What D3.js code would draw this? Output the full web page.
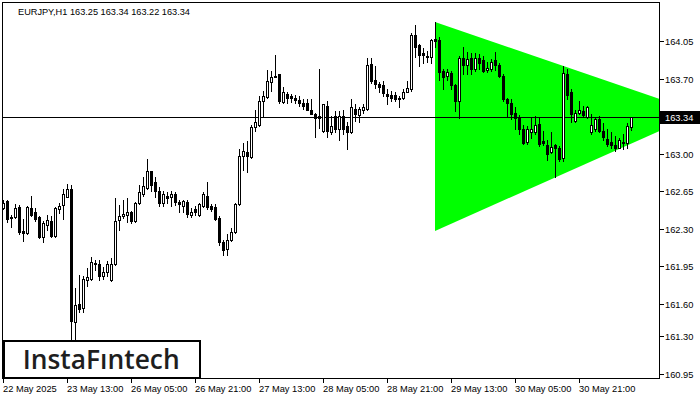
<!DOCTYPE html>
<html><head><meta charset="utf-8">
<script src="https://cdn.jsdelivr.net/npm/d3@7"></script>
<style>body{margin:0;background:#fff}svg{display:block}</style>
</head><body>
<svg id="c" width="700" height="400"></svg>
<script>
const symbolTitle = "EURJPY,H1  163.25 163.34 163.22 163.34";
const open = [162.49,162.56,162.41,162.41,162.50,162.28,162.26,162.49,162.46,162.41,162.22,162.34,162.37,162.23,162.48,162.52,162.60,162.67,161.43,161.60,161.56,161.82,161.83,161.98,161.97,161.86,161.90,161.82,161.97,162.38,162.42,162.43,162.46,162.37,162.54,162.62,162.68,162.84,162.74,162.65,162.54,162.61,162.60,162.62,162.55,162.51,162.55,162.43,162.48,162.43,162.51,162.61,162.51,162.50,162.40,162.18,162.11,162.20,162.27,162.53,162.98,163.02,162.97,163.25,163.27,163.49,163.53,163.67,163.73,163.74,163.48,163.56,163.54,163.52,163.50,163.47,163.47,163.41,163.37,163.35,163.21,163.45,163.20,163.35,163.23,163.35,163.26,163.20,163.42,163.36,163.41,163.42,163.84,163.69,163.65,163.64,163.56,163.55,163.55,163.52,163.52,163.58,163.60,164.11,164.01,163.94,163.91,163.90,164.07,164.06,163.77,163.73,163.75,163.64,163.49,163.89,163.83,163.89,163.79,163.89,163.87,163.78,163.79,163.87,163.83,163.73,163.51,163.47,163.38,163.33,163.23,163.11,163.20,163.20,163.28,163.12,163.08,163.02,163.08,163.05,162.96,163.74,163.58,163.31,163.38,163.40,163.34,163.20,163.23,163.32,163.21,163.14,163.11,163.08,163.05,163.11,163.10,163.25];
const high = [162.57,162.57,162.43,162.53,162.52,162.39,162.51,162.61,162.49,162.42,162.37,162.43,162.42,162.50,162.54,162.67,162.72,162.71,161.75,161.87,161.86,161.93,162.04,162.01,162.01,161.94,162.00,162.03,162.59,162.52,162.57,162.59,162.47,162.55,162.71,162.78,162.95,162.84,162.78,162.69,162.65,162.64,162.65,162.64,162.57,162.57,162.57,162.49,162.51,162.54,162.64,162.74,162.53,162.53,162.42,162.20,162.25,162.31,162.54,163.04,163.10,163.12,163.27,163.41,163.54,163.59,163.78,163.77,163.92,163.74,163.62,163.58,163.56,163.55,163.54,163.51,163.51,163.51,163.38,163.79,163.46,163.49,163.35,163.40,163.40,163.41,163.30,163.51,163.46,163.44,163.46,163.89,163.89,163.82,163.67,163.68,163.60,163.59,163.58,163.54,163.60,163.68,164.13,164.20,164.02,163.99,163.96,164.07,164.23,164.09,163.79,163.79,163.77,163.65,163.91,164.00,163.95,163.94,163.94,163.93,163.91,163.86,163.88,163.95,163.85,163.74,163.52,163.51,163.44,163.36,163.27,163.26,163.34,163.35,163.34,163.21,163.13,163.20,163.09,163.07,163.82,163.79,163.60,163.41,163.49,163.45,163.45,163.37,163.34,163.35,163.29,163.23,163.20,163.17,163.15,163.18,163.29,163.34];
const low = [162.48,162.36,162.32,162.40,162.25,162.19,162.25,162.42,162.37,162.21,162.18,162.29,162.22,162.22,162.45,162.39,162.60,161.22,161.25,161.52,161.52,161.77,161.82,161.92,161.82,161.83,161.86,161.81,161.96,162.29,162.40,162.36,162.35,162.36,162.53,162.61,162.67,162.65,162.60,162.51,162.51,162.54,162.51,162.52,162.46,162.46,162.41,162.41,162.43,162.42,162.50,162.48,162.47,162.38,162.15,162.06,162.06,162.19,162.26,162.52,162.85,162.83,162.96,163.21,163.26,163.35,163.52,163.59,163.72,163.47,163.47,163.47,163.48,163.47,163.45,163.42,163.41,163.37,163.16,163.24,163.20,163.16,163.18,163.20,163.13,163.18,163.04,163.19,163.31,163.30,163.38,163.41,163.66,163.61,163.58,163.54,163.46,163.49,163.49,163.44,163.51,163.58,163.59,163.90,163.82,163.85,163.86,163.85,164.00,163.69,163.60,163.69,163.60,163.40,163.33,163.74,163.74,163.74,163.77,163.79,163.76,163.76,163.77,163.78,163.72,163.49,163.35,163.32,163.23,163.18,163.09,163.09,163.15,163.18,163.07,163.08,162.94,163.01,162.78,162.93,162.93,163.51,163.30,163.30,163.37,163.34,163.33,163.18,163.21,163.20,163.13,163.07,163.05,163.03,163.05,163.04,163.05,163.22];
const close = [162.54,162.39,162.40,162.49,162.27,162.26,162.50,162.43,162.39,162.22,162.35,162.38,162.23,162.49,162.51,162.62,162.67,161.44,161.59,161.55,161.83,161.85,161.99,161.97,161.86,161.90,161.97,161.97,162.37,162.42,162.44,162.46,162.37,162.54,162.64,162.70,162.84,162.71,162.65,162.54,162.62,162.59,162.62,162.55,162.53,162.56,162.44,162.46,162.46,162.53,162.62,162.50,162.48,162.39,162.18,162.10,162.20,162.27,162.53,162.98,163.03,162.98,163.25,163.30,163.49,163.54,163.68,163.72,163.72,163.49,163.58,163.52,163.52,163.50,163.47,163.45,163.41,163.37,163.33,163.33,163.46,163.21,163.26,163.23,163.35,163.23,163.20,163.44,163.37,163.42,163.44,163.83,163.68,163.65,163.62,163.57,163.54,163.52,163.51,163.51,163.58,163.61,164.11,164.00,163.92,163.92,163.90,164.06,164.05,163.76,163.72,163.76,163.64,163.49,163.89,163.83,163.88,163.79,163.89,163.85,163.77,163.80,163.86,163.83,163.73,163.51,163.47,163.37,163.33,163.23,163.10,163.23,163.23,163.27,163.09,163.10,163.00,163.06,163.05,162.95,163.75,163.55,163.37,163.38,163.41,163.36,163.44,163.27,163.32,163.21,163.16,163.09,163.08,163.05,163.13,163.10,163.26,163.34];
const xTickBars = [0,16,32,48,64,80,96,112,128,144];
const xTickLabels = ["22 May 2025","23 May 13:00","26 May 05:00","26 May 21:00","27 May 13:00","28 May 05:00","28 May 21:00","29 May 13:00","30 May 05:00","30 May 21:00"];
const yTicks = [164.05,163.70,163.00,162.65,162.30,161.95,161.60,161.30,160.95];
const lastPrice = 163.34;
const triangleBars = [108,108,174.3];
const trianglePrices = [164.23,162.28,163.38];
const brand = "InstaFıntech";

const svg = d3.select("#c").attr("shape-rendering","crispEdges");
const FONT = "'Liberation Sans', Arial, sans-serif";
const x = d3.scaleLinear().domain([0,164]).range([3.5,659.5]);
const y = d3.scaleLinear().domain([160.95,164.05]).range([373.5,41.2]);
const ry = v => Math.round(y(v));

svg.append("defs").append("clipPath").attr("id","plot")
  .append("rect").attr("x",3).attr("y",3).attr("width",656).attr("height",375);

const g = svg.append("g").attr("clip-path","url(#plot)");

// triangle pattern
g.append("polygon")
  .attr("points", triangleBars.map((b,k)=>[x(b)-0.5, y(trianglePrices[k])].join(",")).join(" "))
  .attr("fill","#00ff00").attr("shape-rendering","auto");

// price line
g.append("line").attr("x1",3).attr("x2",659)
  .attr("y1",ry(lastPrice)+0.5).attr("y2",ry(lastPrice)+0.5)
  .attr("stroke","#000").attr("stroke-width",1);

// candles
const idx = d3.range(open.length);
const cg = g.append("g");
idx.forEach(i=>{
  const cx = x(i);
  cg.append("line").attr("x1",cx).attr("x2",cx)
    .attr("y1",ry(high[i])).attr("y2",ry(low[i])+1)
    .attr("stroke","#000").attr("stroke-width",1);
  const top = ry(Math.max(open[i],close[i]));
  const bot = ry(Math.min(open[i],close[i]));
  const bull = close[i] >= open[i];
  if (bot - top < 1) {
    cg.append("line").attr("x1",cx-1.5).attr("x2",cx+1.5)
      .attr("y1",top+0.5).attr("y2",top+0.5).attr("stroke","#000");
  } else {
    cg.append("rect").attr("x",cx-1).attr("y",top+0.5)
      .attr("width",2).attr("height",bot-top)
      .attr("fill", bull ? "#fff" : "#000").attr("stroke","#000").attr("stroke-width",1);
  }
});

// frame
svg.append("rect").attr("x",2.5).attr("y",2.5).attr("width",657).attr("height",376)
  .attr("fill","none").attr("stroke","#000").attr("stroke-width",1);

// y axis
const ya = svg.append("g");
yTicks.forEach(v=>{
  const yy = ry(v)+0.5;
  ya.append("line").attr("x1",660).attr("x2",664).attr("y1",yy).attr("y2",yy).attr("stroke","#000");
  ya.append("text").attr("x",665).attr("y",yy).attr("dy","0.35em")
    .attr("font-family",FONT).attr("font-size",9.3).attr("fill","#000").text(d3.format(".2f")(v));
});
// current price label
const py = ry(lastPrice)+0.5;
svg.append("rect").attr("x",660).attr("y",py-6.5).attr("width",40).attr("height",13).attr("fill","#000");
svg.append("text").attr("x",665).attr("y",py).attr("dy","0.35em")
  .attr("font-family",FONT).attr("font-size",9.3).attr("fill","#fff").text(d3.format(".2f")(lastPrice));

// x axis
const xa = svg.append("g");
xTickBars.forEach((b,k)=>{
  const xx = x(b);
  xa.append("line").attr("x1",xx).attr("x2",xx).attr("y1",379).attr("y2",383).attr("stroke","#000");
  xa.append("text").attr("x",xx-0.5).attr("y",391.5)
    .attr("font-family",FONT).attr("font-size",9.3).attr("fill","#000").text(xTickLabels[k]);
});

// title
svg.append("text").attr("x",18).attr("y",14.5)
  .attr("font-family",FONT).attr("font-size",9.2).attr("fill","#000").text(symbolTitle);

// watermark
svg.append("rect").attr("x",4).attr("y",341).attr("width",196).attr("height",37)
  .attr("fill","#fff").attr("stroke","#000").attr("stroke-width",2);
svg.append("text").attr("x",22.7).attr("y",369.3)
  .attr("font-family","'Open Sans', sans-serif").attr("font-weight",600).attr("font-size",27)
  .attr("textLength",157).attr("lengthAdjust","spacingAndGlyphs")
  .attr("fill","#1e1e1e").attr("shape-rendering","auto").text(brand);
</script>
</body></html>
